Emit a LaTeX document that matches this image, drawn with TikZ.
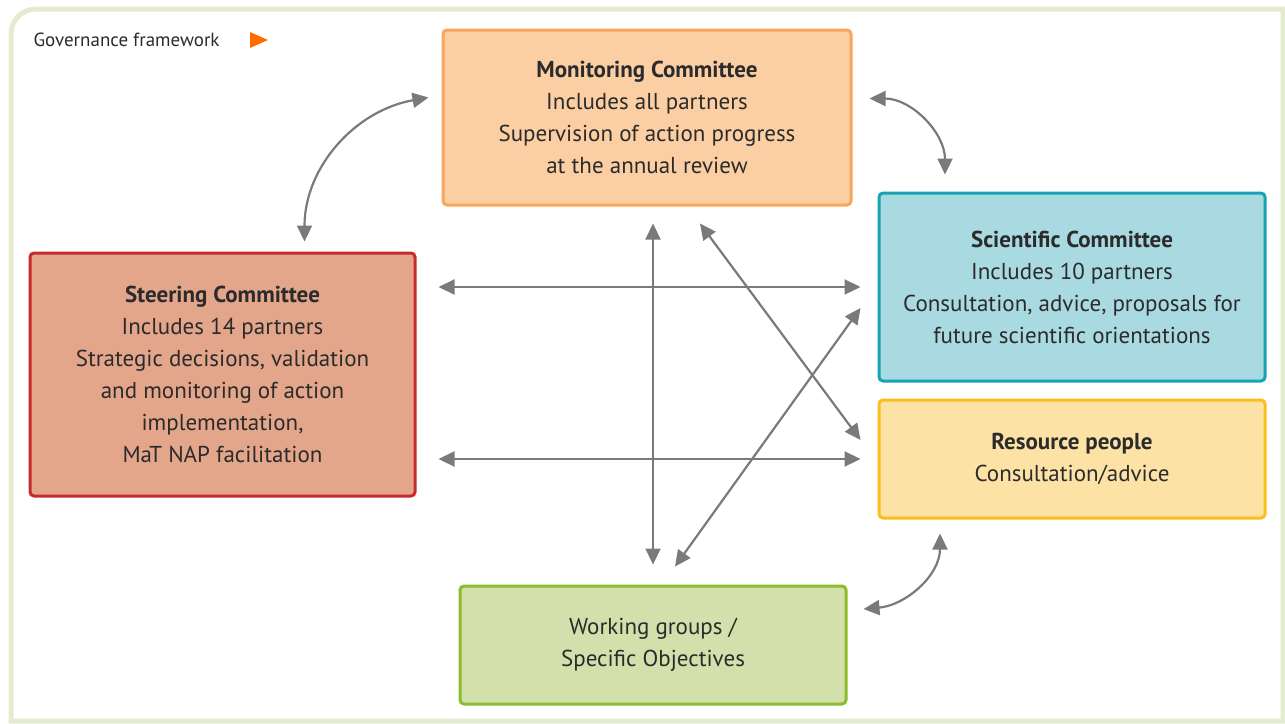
\documentclass[tikz,border=0pt]{standalone}
\usepackage{fontspec}
\setmainfont{PT Sans}
\usetikzlibrary{arrows.meta}

\definecolor{framegreen}{HTML}{E5EBD0}
\definecolor{linkgray}{HTML}{7A7A7A}
\definecolor{txtgray}{HTML}{2B2B2B}
\definecolor{monfill}{HTML}{FBCFA3}
\definecolor{monline}{HTML}{F8A65A}
\definecolor{steerfill}{HTML}{E3A68B}
\definecolor{steerline}{HTML}{C52A2E}
\definecolor{scifill}{HTML}{A9D9E1}
\definecolor{sciline}{HTML}{16A3B5}
\definecolor{resfill}{HTML}{FDE2A6}
\definecolor{resline}{HTML}{FBBF1C}
\definecolor{workfill}{HTML}{D4E0AB}
\definecolor{workline}{HTML}{8CBB2E}

\tikzset{
  committee/.style={draw=#1line, fill=#1fill, line width=3pt, rounded corners=4pt,
    align=center, text=txtgray, font=\fontsize{23}{32}\selectfont, inner sep=0pt},
  link/.style={linkgray, line width=2.2pt, {Triangle[length=16pt,width=15pt]}-{Triangle[length=16pt,width=15pt]}},
}

\begin{document}
\begin{tikzpicture}[x=1pt,y=-1pt]
  \useasboundingbox (0,0) rectangle (1285,723);
  % outer frame
  \draw[framegreen, line width=5pt] (11,721) -- (11,34) to[out=90,in=180] (36,9) -- (1283,9) -- (1283,721) -- cycle;
  \node[anchor=west, text=txtgray, font=\fontsize{19}{20}\selectfont] (title) at (30,40) {Governance framework};
  \fill[orange!85!red] (250,32) -- (268,40) -- (250,48) -- cycle;

  % committees
  \node[committee=mon, minimum width=408pt, minimum height=175pt] (mon) at (647,117.5)
    {\textbf{Monitoring Committee}\\Includes all partners\\Supervision of action progress\\at the annual review};
  \node[committee=steer, minimum width=385pt, minimum height=243pt] (steer) at (222.5,374.5)
    {\textbf{Steering Committee}\\Includes 14 partners\\Strategic decisions, validation\\and monitoring of action\\implementation,\\MaT NAP facilitation};
  \node[committee=sci, minimum width=386pt, minimum height=188pt] (sci) at (1072,287)
    {\textbf{Scientific Committee}\\Includes 10 partners\\Consultation, advice, proposals for\\future scientific orientations};
  \node[committee=res, minimum width=386pt, minimum height=118pt] (res) at (1072,459)
    {\textbf{Resource people}\\Consultation/advice};
  \node[committee=work, minimum width=386pt, minimum height=118pt] (work) at (653,645)
    {Working groups /\\Specific Objectives};

  % links
  \draw[link] ([xshift=82pt,yshift=10pt]steer.north) to[out=90,in=190] ([xshift=-13pt,yshift=20pt]mon.west);
  \draw[link] ([xshift=17pt,yshift=19pt]mon.east) to[out=0,in=90] ([xshift=-127pt,yshift=17pt]sci.north);
  \draw[link] ([xshift=16pt,yshift=36pt]work.east) to[out=5,in=-90] ([xshift=-132pt,yshift=-14pt]res.south);
  \draw[link, shorten <=22pt, shorten >=17pt] (steer.east |- sci.west) -- (sci.west);
  \draw[link, shorten <=22pt, shorten >=17pt] (steer.east |- res.west) -- (res.west);
  \draw[link, shorten <=17pt, shorten >=20pt] (work.north |- mon.south) -- (work.north);
  \draw[link] ([xshift=53pt,yshift=-17pt]mon.south) -- ([xshift=-17pt,yshift=19pt]res.west);
  \draw[link] ([xshift=-17pt,yshift=-21pt]sci.west) -- ([xshift=22pt,yshift=18pt]work.north);
\end{tikzpicture}
\end{document}
